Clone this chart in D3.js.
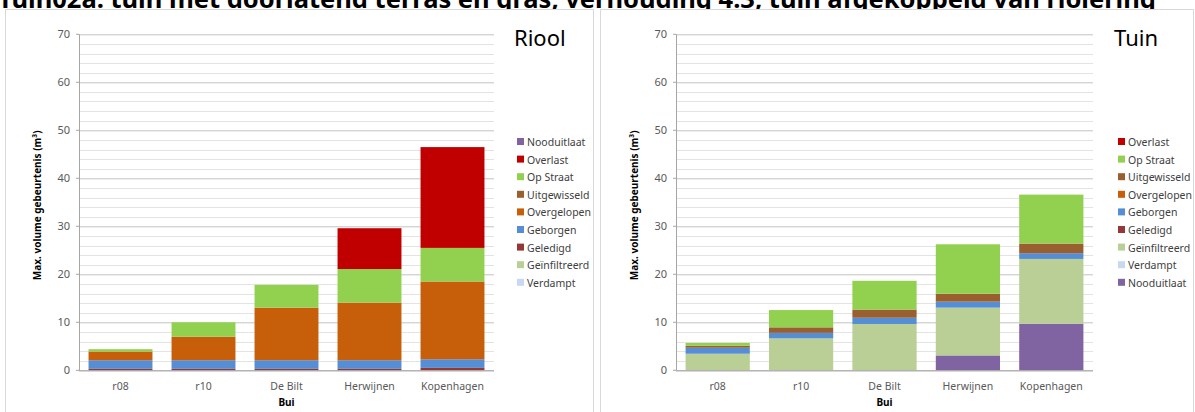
<!DOCTYPE html>
<html>
<head>
<meta charset="utf-8">
<script src="https://cdn.jsdelivr.net/npm/d3@7"></script>
<style>
  html, body { margin: 0; padding: 0; background: #fff; }
  svg { display: block; font-family: "Noto Sans", "Open Sans", sans-serif; }
</style>
</head>
<body>
<svg id="chart" width="1195" height="412"></svg>
<script>
// Rain events (Bui) on the x axis
const categories = ["r08", "r10", "De Bilt", "Herwijnen", "Kopenhagen"];

// Riool: stacked series, bottom to top
const rioolVerdampt     = [0, 0, 0, 0, 0];
const rioolGeinfiltreerd= [0, 0, 0, 0, 0];
const rioolGeledigd     = [0.3, 0.3, 0.3, 0.3, 0.5];
const rioolGeborgen     = [1.8, 1.8, 1.8, 1.8, 1.8];
const rioolOvergelopen  = [1.8, 4.9, 10.95, 12.0, 16.2];
const rioolUitgewisseld = [0, 0, 0, 0, 0];
const rioolOpStraat     = [0.5, 3.0, 4.75, 7.0, 7.0];
const rioolOverlast     = [0, 0, 0, 8.5, 21.0];
const rioolNooduitlaat  = [0, 0, 0, 0, 0];

// Tuin: stacked series, bottom to top
const tuinNooduitlaat   = [0, 0, 0, 3.1, 9.7];
const tuinVerdampt      = [0, 0, 0, 0, 0];
const tuinGeinfiltreerd = [3.45, 6.65, 9.65, 9.95, 13.5];
const tuinGeledigd      = [0, 0, 0, 0, 0];
const tuinGeborgen      = [1.25, 1.15, 1.3, 1.25, 1.2];
const tuinOvergelopen   = [0, 0, 0, 0, 0];
const tuinUitgewisseld  = [0.4, 1.15, 1.7, 1.65, 2.0];
const tuinOpStraat      = [0.6, 3.6, 6.0, 10.3, 10.2];
const tuinOverlast      = [0, 0, 0, 0, 0];

const yTicks = [0, 10, 20, 30, 40, 50, 60, 70];

const colors = {
  "Nooduitlaat": "#8064a2",
  "Overlast": "#c00000",
  "Op Straat": "#92d050",
  "Uitgewisseld": "#9a5f2e",
  "Overgelopen": "#c65e0a",
  "Geborgen": "#558ed5",
  "Geledigd": "#953735",
  "Geïnfiltreerd": "#b9cf96",
  "Verdampt": "#c6d9f1"
};

const rioolSeries = [
  ["Verdampt", rioolVerdampt],
  ["Geïnfiltreerd", rioolGeinfiltreerd],
  ["Geledigd", rioolGeledigd],
  ["Geborgen", rioolGeborgen],
  ["Overgelopen", rioolOvergelopen],
  ["Uitgewisseld", rioolUitgewisseld],
  ["Op Straat", rioolOpStraat],
  ["Overlast", rioolOverlast],
  ["Nooduitlaat", rioolNooduitlaat]
];

const tuinSeries = [
  ["Nooduitlaat", tuinNooduitlaat],
  ["Verdampt", tuinVerdampt],
  ["Geïnfiltreerd", tuinGeinfiltreerd],
  ["Geledigd", tuinGeledigd],
  ["Geborgen", tuinGeborgen],
  ["Overgelopen", tuinOvergelopen],
  ["Uitgewisseld", tuinUitgewisseld],
  ["Op Straat", tuinOpStraat],
  ["Overlast", tuinOverlast]
];

const svg = d3.select("#chart");

// Page heading (runs off the top edge of the page)
svg.append("text")
  .attr("x", -2).attr("y", 8)
  .attr("font-size", 25.5).attr("font-weight", "bold").attr("fill", "#000")
  .text("Tuin02a: tuin met doorlatend terras en gras, verhouding 4:3, tuin afgekoppeld van riolering");

function drawPanel(cfg) {
  const g = svg.append("g");

  // chart frame
  g.append("rect")
    .attr("x", cfg.frameX + 0.5).attr("y", 9.5)
    .attr("width", cfg.frameW).attr("height", 420)
    .attr("fill", "#fff").attr("stroke", "#d9d9d9");

  const x = d3.scaleBand().domain(categories)
    .range([cfg.x0, cfg.x1]).paddingInner(0.23).paddingOuter(0.115);
  const y = d3.scaleLinear().domain([0, 70]).range([370.3, 34.3]);

  // minor gridlines every 2
  g.append("g").selectAll("line")
    .data(d3.range(2, 71, 2).filter(v => v % 10 !== 0))
    .join("line")
    .attr("x1", cfg.x0).attr("x2", cfg.x1)
    .attr("y1", d => Math.round(y(d)) + 0.5).attr("y2", d => Math.round(y(d)) + 0.5)
    .attr("stroke", "#e3e3e3").attr("stroke-width", 1);

  // major gridlines + axis
  const yAxis = d3.axisLeft(y).tickValues(yTicks).tickSize(-(cfg.x1 - cfg.x0)).tickPadding(9);
  const ya = g.append("g").attr("transform", `translate(${cfg.x0},0)`).call(yAxis);
  ya.select(".domain").remove();
  ya.selectAll(".tick line").attr("stroke", "#c4c4c4");
  ya.selectAll(".tick text").attr("font-size", 11).attr("fill", "#595959")
    .attr("font-family", "\"Noto Sans\", sans-serif");
  // small outside tick marks
  g.append("g").selectAll("line").data(yTicks).join("line")
    .attr("x1", cfg.x0 - 3).attr("x2", cfg.x0)
    .attr("y1", d => y(d)).attr("y2", d => y(d))
    .attr("stroke", "#a6a6a6");

  // stacked bars
  const rows = categories.map((c, i) => {
    const r = { cat: c };
    cfg.series.forEach(([name, vals]) => { r[name] = vals[i]; });
    return r;
  });
  const stack = d3.stack().keys(cfg.series.map(s => s[0]))(rows);
  g.append("g").selectAll("g").data(stack).join("g")
    .attr("fill", d => colors[d.key])
    .selectAll("rect").data(d => d).join("rect")
    .attr("x", d => x(d.data.cat))
    .attr("width", x.bandwidth())
    .attr("y", d => y(d[1]))
    .attr("height", d => Math.max(0, y(d[0]) - y(d[1])));

  // vertical and horizontal axis lines
  g.append("line").attr("x1", cfg.x0 + 0.5).attr("x2", cfg.x0 + 0.5)
    .attr("y1", y(70)).attr("y2", y(0)).attr("stroke", "#a6a6a6");
  const xa = g.append("g").attr("transform", `translate(0,${y(0)})`)
    .call(d3.axisBottom(x).tickSize(0).tickPadding(12));
  xa.select(".domain").attr("stroke", "#a6a6a6").attr("d", `M${cfg.x0},0.5H${cfg.x1}`);
  xa.selectAll("text").attr("font-size", 10.5).attr("fill", "#595959")
    .attr("font-family", "\"Noto Sans\", sans-serif");

  // axis titles
  g.append("text")
    .attr("transform", `translate(${cfg.x0 - 38},${y(35) + 3}) rotate(-90)`)
    .attr("text-anchor", "middle").attr("font-size", 10).attr("font-weight", "bold")
    .attr("fill", "#000")
    .text("Max. volume gebeurtenis  (m³)");
  g.append("text")
    .attr("x", (cfg.x0 + cfg.x1) / 2).attr("y", 406)
    .attr("text-anchor", "middle").attr("font-size", 10).attr("font-weight", "bold")
    .attr("fill", "#000").text("Bui");

  // panel title
  g.append("text")
    .attr("x", cfg.titleX).attr("y", 46)
    .attr("font-size", 22).attr("fill", "#000").text(cfg.title);

  // legend (top entry is the top of the stack)
  const legendItems = cfg.series.map(s => s[0]).slice().reverse();
  const lg = g.append("g").selectAll("g").data(legendItems).join("g")
    .attr("transform", (d, i) => `translate(${cfg.legendX},${142 + i * 17.6})`);
  lg.append("rect").attr("x", 0).attr("y", -4).attr("width", 7).attr("height", 7)
    .attr("fill", d => colors[d]);
  lg.append("text").attr("x", 10).attr("y", 4)
    .attr("font-size", 10.5).attr("fill", "#404040").text(d => d);
}

drawPanel({
  frameX: 5, frameW: 588, x0: 79, x1: 494,
  series: rioolSeries, title: "Riool", titleX: 514, legendX: 517
});
drawPanel({
  frameX: 600, frameW: 593, x0: 676, x1: 1093,
  series: tuinSeries, title: "Tuin", titleX: 1114, legendX: 1118
});
</script>
</body>
</html>
